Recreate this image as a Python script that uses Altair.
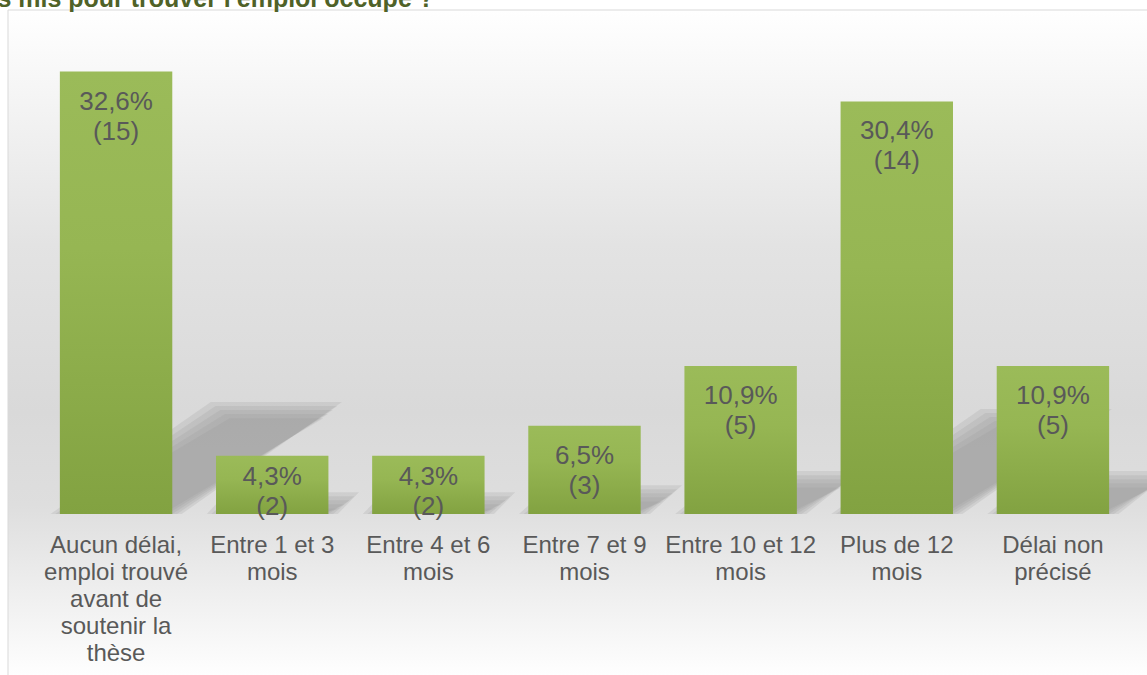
import altair as alt
import pandas as pd

# ---- data ----
categories = [
    "Aucun délai,|emploi trouvé|avant de|soutenir la|thèse",
    "Entre 1 et 3|mois",
    "Entre 4 et 6|mois",
    "Entre 7 et 9|mois",
    "Entre 10 et 12|mois",
    "Plus de 12|mois",
    "Délai non|précisé",
]
percents = [32.6, 4.3, 4.3, 6.5, 10.9, 30.4, 10.9]
counts = [15, 2, 2, 3, 5, 14, 5]
title_text = "Temps mis pour trouver l'emploi occupé ?"

# ---- layout / style constants ----
W, H = 1093, 475
PAD_L, PAD_T = 38, 39
PAD_INNER = 0.28
Y_MAX = 35
SHADOW_DX = 0.0315   # horizontal shift of shadow per % (in band steps)
SHADOW_RISE = 0.235  # shadow height as fraction of bar value
SOFT = [-0.06, -0.03, 0.0, 0.03, 0.06]  # blur layers
LABEL_COLOR = "#595959"
FONT = "Liberation Sans"

df = pd.DataFrame({
    "cat": categories,
    "pct": percents,
    "n": counts,
})
df["lab"] = [f"{p:.1f}".replace(".", ",") + "%|(" + str(c) + ")" for p, c in zip(percents, counts)]

# soft shadow parallelograms (derived from the values)
half = (1 - PAD_INNER) / 2
rows = []
for i, (c, v) in enumerate(zip(categories, percents)):
    for k, e in enumerate(SOFT):
        x0, x1 = i - half - e, i + half + e
        d = SHADOW_DX * v
        h = max(0.05, SHADOW_RISE * v + e * 10)
        for x in sorted({x0, x1, x0 + d, x1 + d}):
            up = min(h, (x - x0) / d * h)
            lo = max(0.0, (x - x1) / d * h)
            rows.append({"g": f"{i}-{k}", "sx": x, "top": up, "bot": lo})
shadow = pd.DataFrame(rows)

yscale = alt.Scale(domain=[0, Y_MAX], nice=False, zero=True)
band = alt.Scale(domain=categories, paddingInner=PAD_INNER, paddingOuter=PAD_INNER / 2)

bg = alt.Chart(pd.DataFrame({"a": [0]})).mark_rect(
    fill=alt.LinearGradient(
        gradient="linear",
        stops=[
            alt.GradientStop(color="#ffffff", offset=0),
            alt.GradientStop(color="#e3e3e3", offset=0.35),
            alt.GradientStop(color="#d9d9d9", offset=0.6),
            alt.GradientStop(color="#dedede", offset=0.74),
            alt.GradientStop(color="#ffffff", offset=1),
        ],
        x1=0, x2=0, y1=0, y2=1,
    ),
    stroke="#d9d9d9",
    strokeWidth=1,
).encode(
    x=alt.value(-30), x2=alt.value(W + 40),
    y=alt.value(-29), y2=alt.value(H + 165),
)

shadows = alt.Chart(shadow).mark_area(
    orient="vertical", color="#959595", opacity=0.2, interpolate="linear"
).encode(
    x=alt.X("sx:Q", scale=alt.Scale(domain=[-0.5, len(categories) - 0.5], nice=False, zero=False), axis=None),
    y=alt.Y("top:Q", scale=yscale, axis=None),
    y2="bot:Q",
    detail="g:N",
)

xenc = alt.X(
    "cat:N",
    sort=categories,
    scale=band,
    axis=alt.Axis(
        title=None, domain=False, ticks=False, labelAngle=0, orient="bottom",
        labelExpr="split(datum.label, '|')",
        labelFont=FONT, labelFontSize=24, labelColor=LABEL_COLOR,
        labelLineHeight=27, labelPadding=19, labelBaseline="top",
        labelLimit=400, zindex=2,
    ),
)

bars = alt.Chart(df).mark_bar(
    fill=alt.LinearGradient(
        gradient="linear",
        stops=[
            alt.GradientStop(color="#9bbb59", offset=0),
            alt.GradientStop(color="#96b653", offset=0.4),
            alt.GradientStop(color="#82a241", offset=1),
        ],
        x1=0, x2=0, y1=0, y2=1,
    )
).encode(
    x=xenc,
    y=alt.Y("pct:Q", scale=yscale, axis=None),
)

def labels(cond, dy):
    return alt.Chart(df).transform_filter(cond).transform_calculate(
        lines="split(datum.lab, '|')"
    ).mark_text(
        font=FONT, fontSize=26, color=LABEL_COLOR, lineHeight=30,
        baseline="alphabetic", align="center", dy=dy,
    ).encode(
        x=alt.X("cat:N", sort=categories, scale=band, axis=None),
        y=alt.Y("pct:Q", scale=yscale, axis=None),
        text="lines:N",
    )

lab_big = labels("datum.pct >= 5", 38)
lab_small = labels("datum.pct < 5", 29)

title = alt.Chart(pd.DataFrame({"t": [title_text]})).mark_text(
    font=FONT, fontSize=25, fontWeight="bold", color="#4f6228",
    align="right", baseline="alphabetic",
).encode(
    x=alt.value(434 - PAD_L), y=alt.value(7 - PAD_T), text="t:N"
)

chart = alt.layer(bg, shadows, bars, lab_big, lab_small, title).resolve_scale(
    x="independent"
).properties(
    width=W, height=H,
    padding={"left": PAD_L, "top": PAD_T, "right": 1147 - PAD_L - W, "bottom": 675 - PAD_T - H},
    autosize="none",
    background="white",
).configure_view(stroke=None)

chart.save("out.html", embed_options={"renderer": "svg", "actions": False})
